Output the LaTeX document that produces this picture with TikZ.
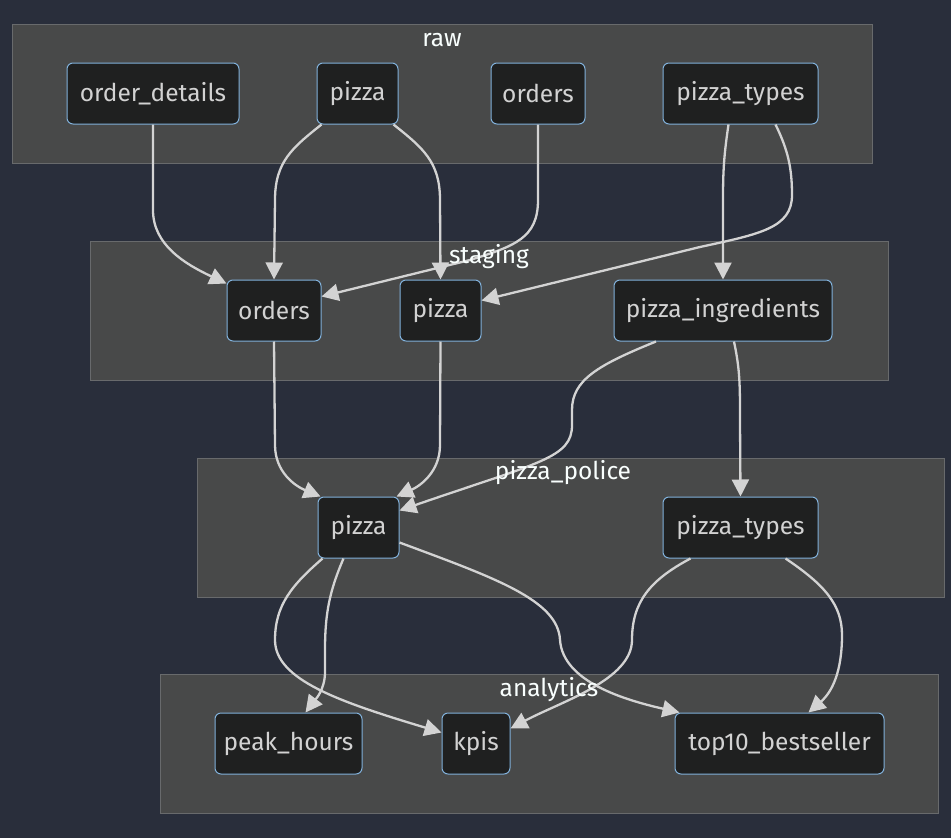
\documentclass[tikz,border=0pt]{standalone}
\usepackage{fontspec}
\setmainfont{Fira Sans}
\usepackage{tikz}
\usetikzlibrary{arrows.meta, positioning}
\definecolor{pagebg}{RGB}{41,46,59}
\definecolor{clusterbg}{RGB}{72,73,73}
\definecolor{clusterline}{RGB}{104,106,108}
\definecolor{nodebg}{RGB}{31,32,32}
\definecolor{nodeline}{RGB}{129,177,219}
\definecolor{edgecol}{RGB}{211,211,211}
\definecolor{nodetext}{RGB}{210,210,210}
\definecolor{titletext}{RGB}{249,255,254}

\begin{document}
\begin{tikzpicture}[x=1pt, y=-1pt,
    model/.style={draw=nodeline, fill=nodebg, line width=1pt, rounded corners=6pt,
      minimum height=61pt, inner sep=0pt, text=nodetext, font=\fontsize{24.5}{28}\selectfont},
    cluster/.style={draw=clusterline, fill=clusterbg, line width=1pt},
    ctitle/.style={text=titletext, font=\fontsize{24.5}{28}\selectfont},
    edge/.style={draw=edgecol, line width=2.3pt, -{Triangle[length=17pt, width=17pt]}}]
  \useasboundingbox[fill=pagebg] (0,0) rectangle (951,838);
  % subgraphs
  \draw[cluster] (12,24) rectangle (872,163);
  \draw[cluster] (90,241) rectangle (888,380);
  \draw[cluster] (197,458) rectangle (944,597);
  \draw[cluster] (160,674) rectangle (938,813);
  % raw
  \node[model, minimum width=172pt] (rawodet)   at (153,93.5)   {order\_details};
  \node[model, minimum width=81pt]  (rawpizza)  at (357.5,93.5) {pizza};
  \node[model, minimum width=94pt]  (raworders) at (538,93.5)   {orders};
  \node[model, minimum width=155pt] (rawtypes)  at (740.5,93.5) {pizza\_types};
  % staging
  \node[model, minimum width=94pt]  (stgorders) at (274,310.5)   {orders};
  \node[model, minimum width=81pt]  (stgpizza)  at (440.5,310.5) {pizza};
  \node[model, minimum width=218pt] (stgingr)   at (723,310.5)   {pizza\_ingredients};
  % pizza_police
  \node[model, minimum width=81pt]  (polpizza)  at (358.5,527.5) {pizza};
  \node[model, minimum width=155pt] (poltypes)  at (740.5,527.5) {pizza\_types};
  % analytics
  \node[model, minimum width=147pt] (anpeak)    at (288.5,743.5) {peak\_hours};
  \node[model, minimum width=68pt]  (ankpis)    at (476,743.5)   {kpis};
  \node[model, minimum width=209pt] (antop)     at (779.5,743.5) {top10\_bestseller};
  % edges
  \draw[edge] (rawodet.south) -- (153,210) .. controls (153,245) and (185,264) .. ([yshift=-4pt]stgorders.north west);
  \draw[edge] ([xshift=5pt]rawpizza.south west) .. controls (292,148) and (275,162) .. (275,200) -- (stgorders.north);
  \draw[edge] ([xshift=-5pt]rawpizza.south east) .. controls (423,148) and (440,162) .. (440,200) -- (stgpizza.north);
  \draw[edge] (raworders.south) -- (538,200) .. controls (538,238) and (515,246) .. (470,260) -- ([yshift=14pt]stgorders.east);
  \draw[edge] ([xshift=-12pt]rawtypes.south) .. controls (724,155) and (723,170) .. (723,200) -- (stgingr.north);
  \draw[edge] ([xshift=35pt]rawtypes.south) .. controls (788,150) and (792,168) .. (792,195) .. controls (792,228) and (760,234) .. (700,247) -- ([yshift=10pt]stgpizza.east);
  \draw[edge] (stgorders.south) -- (275,445) .. controls (275,472) and (295,486) .. ([xshift=3pt]polpizza.north west);
  \draw[edge] (stgpizza.south) -- (440,445) .. controls (440,472) and (420,486) .. ([xshift=-3pt]polpizza.north east);
  \draw[edge] ([xshift=-67pt]stgingr.south) .. controls (598,365) and (572,380) .. (572,410) -- (572,425) .. controls (572,458) and (540,462) .. ([yshift=17pt]polpizza.east);
  \draw[edge] ([xshift=11pt]stgingr.south) .. controls (740,370) and (740,385) .. (740,420) -- (poltypes.north);
  \draw[edge] ([xshift=5pt]polpizza.south west) .. controls (292,585) and (275,605) .. (275,640) .. controls (275,680) and (340,702) .. ([yshift=11pt]ankpis.west);
  \draw[edge] ([xshift=-15pt]polpizza.south) .. controls (330,590) and (325,612) .. (325,650) -- (325,672) .. controls (325,690) and (315,700) .. ([xshift=17pt]anpeak.north);
  \draw[edge] ([yshift=-15pt]polpizza.east) .. controls (495,578) and (558,600) .. (560,640) .. controls (563,682) and (625,700) .. ([xshift=5pt]antop.north west);
  \draw[edge] ([xshift=-50pt]poltypes.south) .. controls (650,580) and (632,602) .. (632,640) .. controls (632,680) and (560,702) .. ([yshift=15pt]ankpis.east);
  \draw[edge] ([xshift=45pt]poltypes.south) .. controls (825,585) and (842,605) .. (842,635) .. controls (842,672) and (832,692) .. ([xshift=29pt]antop.north);
  % titles on top
  \node[ctitle] (trraw)  at (442,40)  {raw};
  \node[ctitle] (trstg)  at (489,257) {staging};
  \node[ctitle] (trpol)  at (563,473) {pizza\_police};
  \node[ctitle] (trana)  at (549,690) {analytics};
\end{tikzpicture}
\end{document}
